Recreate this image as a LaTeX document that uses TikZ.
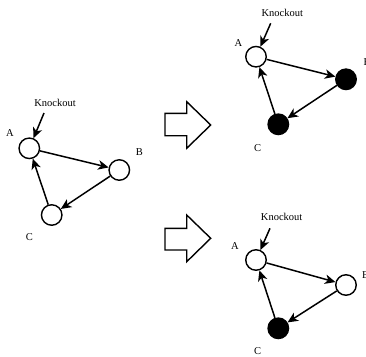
\documentclass[tikz,border=0pt]{standalone}
\usepackage{fontspec}
\setmainfont{Liberation Serif}
\usetikzlibrary{arrows.meta}
\begin{document}
\begin{tikzpicture}[x=1pt,y=-1pt,
  gene/.style={circle,draw=black,line width=1.4pt,minimum size=20.5pt,inner sep=0pt,fill=white},
  off/.style={gene,fill=black},
  lbl/.style={font=\fontsize{10.5}{12}\selectfont,inner sep=0pt},
  link/.style={line width=1.5pt,-{Stealth[length=10.5pt,width=9.5pt,inset=3pt]}},
  bigarrow/.style={draw=black,line width=1.4pt,fill=white,line join=miter}]
\useasboundingbox (0,0) rectangle (366,356);

% Initial network
\node[gene] (a0) at (29.3,148.3) {};
\node[gene] (b0) at (119.3,170) {};
\node[gene] (c0) at (51.7,215) {};
\node[lbl] (ko0) at (55,103.3) {Knockout};
\coordinate (k0) at (44,113);
\node[lbl] (la0) at (10,132.7) {A};
\node[lbl] (lb0) at (139.3,151.7) {B};
\node[lbl] (lc0) at (29.3,236.7) {C};
\draw[link] (k0) -- (a0);
\draw[link] (a0) -- (b0);
\draw[link] (b0) -- (c0);
\draw[link] (c0) -- (a0);

% Outcome 1: B and C off
\node[gene] (a1) at (256,56.7) {};
\node[off] (b1) at (346,79.3) {};
\node[off] (c1) at (278.3,124.3) {};
\node[lbl] (ko1) at (282.3,13.3) {Knockout};
\coordinate (k1) at (270.7,23.3);
\node[lbl] (la1) at (238.3,42.7) {A};
\node[lbl] (lb1) at (367,61.7) {B};
\node[lbl] (lc1) at (257.7,147.7) {C};
\draw[link] (k1) -- (a1);
\draw[link] (a1) -- (b1);
\draw[link] (b1) -- (c1);
\draw[link] (c1) -- (a1);

% Outcome 2: only C off
\node[gene] (a2) at (256,260) {};
\node[gene] (b2) at (346,285) {};
\node[off] (c2) at (278.3,328.3) {};
\node[lbl] (ko2) at (281.7,216.7) {Knockout};
\coordinate (k2) at (270,228.3);
\node[lbl] (la2) at (235,246) {A};
\node[lbl] (lb2) at (365.5,275) {B};
\node[lbl] (lc2) at (257.7,351.5) {C};
\draw[link] (k2) -- (a2);
\draw[link] (a2) -- (b2);
\draw[link] (b2) -- (c2);
\draw[link] (c2) -- (a2);

% Transition arrows
\draw[bigarrow] (165,113.3) -- (186.7,113.3) -- (186.7,101.7) -- (210.7,125)
  -- (186.7,148.3) -- (186.7,135.7) -- (165,135.7) -- cycle;
\draw[bigarrow] (165,228.3) -- (186.7,228.3) -- (186.7,215) -- (210.7,238.3)
  -- (186.7,261.7) -- (186.7,250) -- (165,250) -- cycle;
\end{tikzpicture}
\end{document}
